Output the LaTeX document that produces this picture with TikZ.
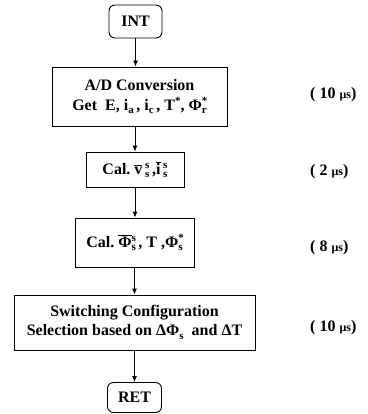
\documentclass[tikz,border=0pt]{standalone}
\usepackage{fontspec}
\setmainfont{Liberation Serif}
\usetikzlibrary{arrows.meta}
\newcommand\scsz{\fontsize{11}{11}\selectfont}
\newcommand\barred[1]{$\overline{\mbox{#1}}$}
\newcommand\supx[1]{\raisebox{6pt}{\scsz #1}}
\newcommand\subx[1]{\raisebox{-3.5pt}{\scsz #1}}
\newcommand\stk[2]{\rlap{\supx{#1}}\subx{#2}}
\newcommand\musize{\fontsize{12}{12}\selectfont}
\tikzset{
  box/.style={draw, line width=0.9pt, inner sep=2pt, align=center,
    font=\fontsize{16}{19}\selectfont\bfseries},
  rbox/.style={box, rounded corners=6pt},
  arr/.style={line width=0.9pt, -{Latex[length=6pt,width=5pt]}},
  tlabel/.style={anchor=west, inner sep=0pt, font=\fontsize{16}{19}\selectfont\bfseries}
}
\begin{document}
\begin{tikzpicture}[x=1pt,y=-1pt]
\useasboundingbox (0,0) rectangle (367,414);
\node[rbox, minimum width=53, minimum height=33] (int) at (135.5,21.5) {INT};
\node[box, minimum width=175, minimum height=59] (ad) at (139.5,96.5)
  {A/D Conversion\\[1pt]Get\ \ E, i\subx{a}\,, i\subx{c}\,, T\supx{*}, Φ\stk{*}{r}};
\node[box, minimum width=98, minimum height=35] (cv) at (135,169.5)
  {Cal.\ \barred{v}\,\stk{s}{s}\,,\barred{i}\,\stk{s}{s}};
\node[box, minimum width=119, minimum height=49] (cf) at (134.5,242.5)
  {Cal.\ \barred{Φ}\stk{s}{s}\,, T\ ,Φ\stk{*}{s}};
\node[box, minimum width=241, minimum height=55] (sw) at (134.5,322.5)
  {Switching Configuration\\Selection based on ΔΦ\subx{s}\ \ and ΔT};
\node[rbox, minimum width=54, minimum height=30] (ret) at (134.5,397.5) {RET};

\node[tlabel] (t1) at (310,95) {( 10 {\musize μs})};
\node[tlabel] (t2) at (310,172) {( 2 {\musize μs})};
\node[tlabel] (t3) at (310,248) {( 8 {\musize μs})};
\node[tlabel] (t4) at (310,328) {( 10 {\musize μs})};

\draw[arr] (int.south) -- (int.south |- ad.north);
\draw[arr] (ad.south -| cv.north) -- (cv.north);
\draw[arr] (cv.south) -- (cv.south |- cf.north);
\draw[arr] (cf.south) -- (cf.south |- sw.north);
\draw[arr] (sw.south) -- (sw.south |- ret.north);
\end{tikzpicture}
\end{document}
